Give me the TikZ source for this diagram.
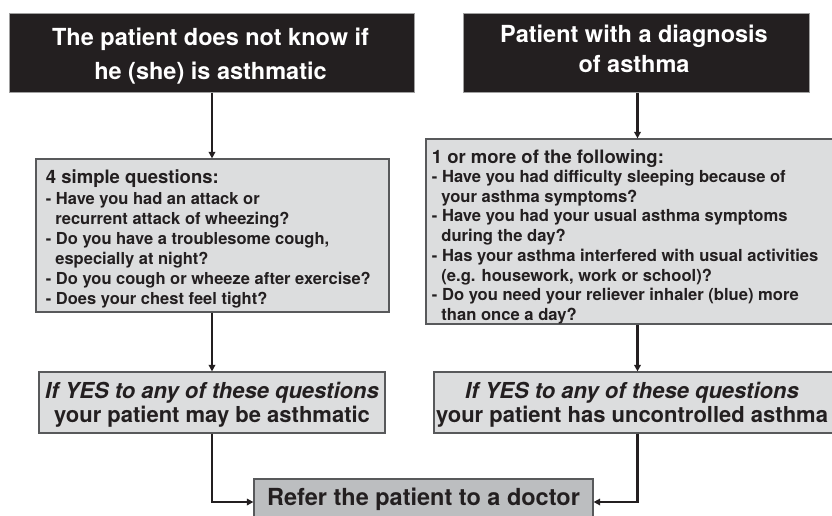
\documentclass[tikz,border=0pt]{standalone}
\usepackage{fontspec}
\setmainfont{TeX Gyre Heros}
\usetikzlibrary{arrows.meta,calc}
\definecolor{ink}{HTML}{231F20}
\definecolor{lightbox}{HTML}{DCDDDE}
\definecolor{midbox}{HTML}{BCBEC0}
\definecolor{rimdark}{HTML}{58595B}
\definecolor{rimlight}{HTML}{A0A0A0}
\tikzset{
  darkbox/.style={draw=rimlight, line width=1pt, fill=ink, inner sep=0pt},
  graybox/.style={draw=rimdark, line width=1.2pt, fill=lightbox, inner sep=0pt},
  referbox/.style={draw=rimdark, line width=1.2pt, fill=midbox, inner sep=0pt},
  arr/.style={draw=ink, line width=2.3pt, -{Triangle[length=6.5pt,width=6.5pt]}},
  lbl/.style={inner sep=0pt, text=ink, font=\bfseries},
}
\begin{document}
\begin{tikzpicture}[x=1pt,y=-1pt]
\useasboundingbox (0,0) rectangle (832,515);
% boxes
\node[darkbox, minimum width=405pt, minimum height=79pt] (t1) at (211.5,52.5) {};
\node[darkbox, minimum width=346pt, minimum height=79pt] (t2) at (636,52.5) {};
\node[graybox, minimum width=353pt, minimum height=153pt] (q1) at (212.5,235.5) {};
\node[graybox, minimum width=410pt, minimum height=185pt] (q2) at (631,231.5) {};
\node[graybox, minimum width=346pt, minimum height=61pt] (y1) at (212,402.5) {};
\node[graybox, minimum width=400pt, minimum height=61pt] (y2) at (634,402.5) {};
\node[referbox, minimum width=339pt, minimum height=46pt] (ref) at (423.5,502) {};
% texts (base anchor of a multi-line node = baseline of its last line)
\node[lbl, text=white, anchor=base, align=center, font=\bfseries\fontsize{23.5}{33.7}\selectfont] (t1txt) at (210.5,79) {The patient does not know if\\he (she) is asthmatic};
\node[lbl, text=white, anchor=base, align=center, font=\bfseries\fontsize{23.5}{29.5}\selectfont] (t2txt) at (634,72) {Patient with a diagnosis\\of asthma};
\node[lbl, anchor=base west, font=\bfseries\fontsize{18.5}{20}\selectfont] (q1head) at (45.7,183) {4 simple questions:};
\node[lbl, anchor=base west, align=left, font=\bfseries\fontsize{16.5}{20}\selectfont] (q1txt) at (45.7,304) {- Have you had an attack or\\\hspace*{9.5pt}recurrent attack of wheezing?\\- Do you have a troublesome cough,\\\hspace*{9.5pt}especially at night?\\- Do you cough or wheeze after exercise?\\- Does your chest feel tight?};
\node[lbl, anchor=base west, font=\bfseries\fontsize{18.5}{20}\selectfont] (q2head) at (431.7,163) {1 or more of the following:};
\node[lbl, anchor=base west, align=left, font=\bfseries\fontsize{16.6}{19.7}\selectfont] (q2txt) at (431.7,320.4) {- Have you had difficulty sleeping because of\\\hspace*{9.5pt}your asthma symptoms?\\- Have you had your usual asthma symptoms\\\hspace*{9.5pt}during the day?\\- Has your asthma interfered with usual activities\\\hspace*{9.5pt}(e.g. housework, work or school)?\\- Do you need your reliever inhaler (blue) more\\\hspace*{9.5pt}than once a day?};
\node[lbl, anchor=base, align=center, font=\bfseries\fontsize{22}{24.7}\selectfont] (y1txt) at (212,422.7) {\textit{If YES to any of these questions}\\your patient may be asthmatic};
\node[lbl, anchor=base, align=center, font=\bfseries\fontsize{22}{24.7}\selectfont] (y2txt) at (632,422.7) {\textit{If YES to any of these questions}\\your patient has uncontrolled asthma};
\node[lbl, anchor=base, font=\bfseries\fontsize{23.5}{28}\selectfont] (reftxt) at (423.5,505) {Refer the patient to a doctor};
% connectors
\coordinate (lx) at (212,0);
\coordinate (rx) at (637.5,0);
\draw[arr] (lx |- t1.south) -- (lx |- q1.north);
\draw[arr] (lx |- q1.south) -- (lx |- y1.north);
\draw[arr] (lx |- y1.south) |- (ref.west);
\draw[arr] (rx |- t2.south) -- (rx |- q2.north);
\draw[arr] (rx |- q2.south) -- (rx |- y2.north);
\draw[arr] (rx |- y2.south) |- (ref.east);
\end{tikzpicture}
\end{document}
